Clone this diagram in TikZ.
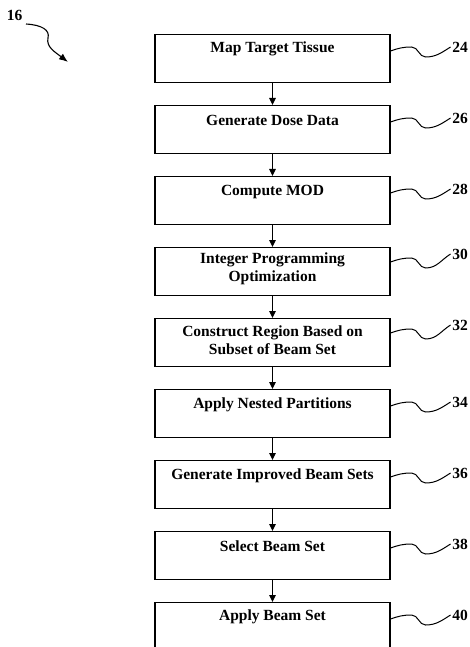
\documentclass[tikz,border=0pt]{standalone}
\usepackage{fontspec}
\setmainfont{Liberation Serif}
\usetikzlibrary{arrows.meta,calc}
\begin{document}
\begin{tikzpicture}[x=1pt,y=1pt,
  stepbox/.style={draw, line width=1.2pt, minimum width=235pt, minimum height=48pt, inner sep=0pt},
  steptext/.style={font=\bfseries\fontsize{15.5}{18}\selectfont, align=center, inner sep=0pt},
  refnum/.style={font=\bfseries\fontsize{15.5}{18}\selectfont, inner sep=1.5pt},
  flow/.style={line width=1.2pt, -{Triangle[length=7pt,width=6.5pt]}},
  leader/.style={line width=1pt}]
\useasboundingbox (0,0) rectangle (470,-647);
\clip (0,0) rectangle (470,-647);

% process steps: index / text / reference numeral / text offset / leader start / numeral offset
\foreach \i/\txt/\num/\dy/\ls/\ln in {
  1/Map Target Tissue/24/15/17/13,
  2/Generate Dose Data/26/15/17/13,
  3/Compute MOD/28/16/17/13,
  4/{Integer Programming\\Optimization}/30/22/15/7,
  5/{Construct Region Based on\\Subset of Beam Set}/32/22/15/7,
  6/Apply Nested Partitions/34/16/17/13,
  7/Generate Improved Beam Sets/36/16/17/13,
  8/Select Beam Set/38/15/17/13,
  9/Apply Beam Set/40/15/17/13} {
  \pgfmathsetmacro\ytop{-34-71*(\i-1)}
  \node[stepbox, anchor=north] (b\i) at (272.5,\ytop) {};
  \node[steptext] (t\i) at ($(b\i.north)+(0,-\dy)$) {\txt};
  \coordinate (s\i) at ($(b\i.north east)+(0,-\ls)$);
  \node[refnum] (n\i) at ($(b\i.north)+(187.5,-\ln)$) {\num};
  \draw[leader] (s\i) to[out=20,in=180] ++(21,4) to[out=0,in=180] ++(14,-10) to[out=0,in=212] (n\i.west);
}

% arrows between consecutive steps
\foreach \i [evaluate=\i as \j using int(\i+1)] in {1,...,8}
  \draw[flow] (b\i.south) -- (b\j.north);

% overall reference numeral with its curved pointer
\node[refnum] (r16) at (14.5,-15) {16};
\coordinate (r16start) at (26,-24);
\coordinate (r16end) at (68,-62);
\draw[line width=1.1pt, -{Latex[length=9pt,width=7pt]}]
  (r16start) .. controls (42,-25) and (50,-30) .. (48,-38)
  .. controls (46,-47) and (55,-52) .. (r16end);
\end{tikzpicture}
\end{document}
